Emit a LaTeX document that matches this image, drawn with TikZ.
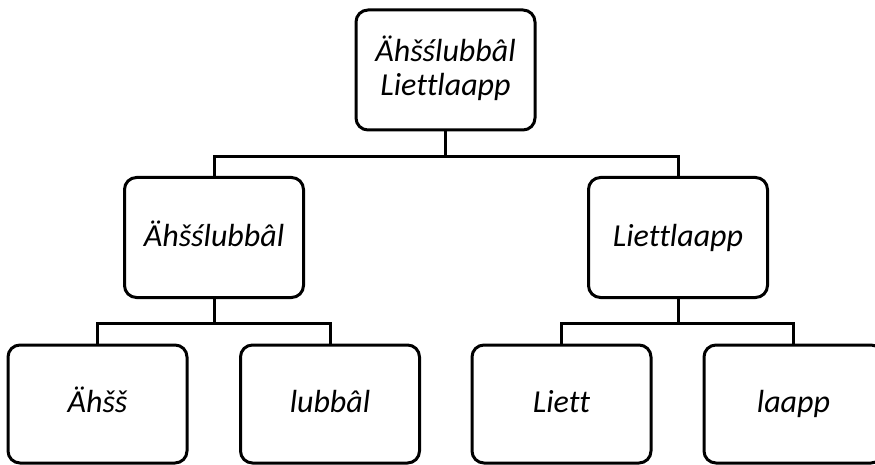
\documentclass[tikz,border=0pt]{standalone}
\usepackage{fontspec}
\setmainfont{Carlito}[Ligatures={NoCommon,NoContextual}]
\begin{document}
\begin{tikzpicture}[x=1pt,y=1pt,
  box/.style={draw=black, line width=3pt, rounded corners=12pt, fill=white,
    minimum width=179pt, minimum height=120pt, inner sep=0pt, align=center,
    text height=23pt, text depth=6pt,
    font=\fontsize{32}{34}\selectfont\itshape},
  conn/.style={draw=black, line width=3pt}]
\useasboundingbox (0,0) rectangle (875,464);
\clip (0,0) rectangle (875,464);
\node[box, text height=57pt, text depth=5pt] (top) at (445.5,394) {Ähšślubbâl\\Liettlaapp};
\node[box] (ml) at (214,226.5) {Ähšślubbâl};
\node[box] (mr) at (678,226.5) {Liettlaapp};
\node[box, minimum height=118pt] (b1) at (97.5,60) {Ähšš};
\node[box, minimum height=118pt] (b2) at (330,60) {lubbâl};
\node[box, minimum height=118pt] (b3) at (561.5,60) {Liett};
\node[box, minimum height=118pt] (b4) at (793.5,60) {laapp};
\draw[conn] (top.south) -- ++(0,-25) coordinate (j1);
\draw[conn] (ml.north) |- (j1) -| (mr.north);
\draw[conn] (ml.south) -- ++(0,-24) coordinate (j2);
\draw[conn] (b1.north) |- (j2) -| (b2.north);
\draw[conn] (mr.south) -- ++(0,-24) coordinate (j3);
\draw[conn] (b3.north) |- (j3) -| (b4.north);
\end{tikzpicture}
\end{document}
